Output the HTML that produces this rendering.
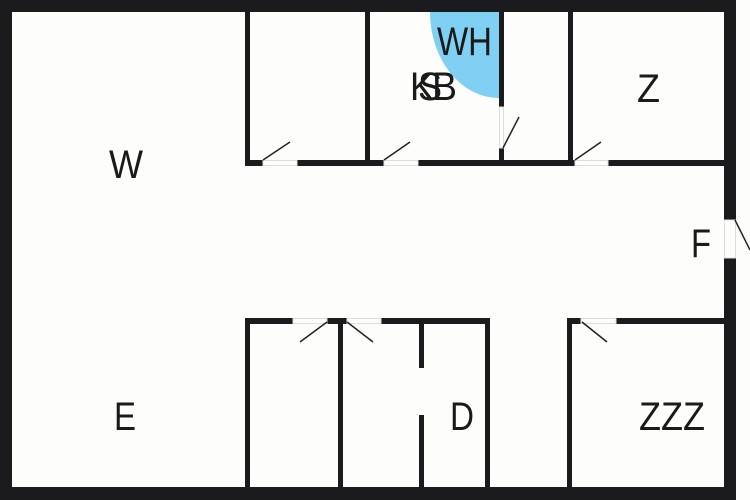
<!DOCTYPE html>
<html><head><meta charset="utf-8"><style>
html,body{margin:0;padding:0;background:#fdfdfc;}
svg{display:block}
text{font-family:"Liberation Sans","DejaVu Sans",sans-serif;fill:#1a1a1a;font-size:40px}
</style></head><body>
<svg width="750" height="500" viewBox="0 0 750 500" xmlns="http://www.w3.org/2000/svg">
<rect width="750" height="500" fill="#fdfdfc"/>
<ellipse cx="499" cy="12" rx="69" ry="86" fill="#7fd0f2"/>
<rect x="499" y="12" width="80" height="100" fill="#fdfdfc"/>
<g fill="#1b1a1c">
<!-- outer -->
<rect x="0" y="0" width="736" height="12"/>
<rect x="0" y="0" width="12" height="500"/>
<rect x="0" y="487" width="736" height="13"/>
<rect x="724" y="0" width="12" height="220"/>
<rect x="724" y="258" width="12" height="242"/>
<!-- top rooms -->
<rect x="245" y="12" width="5" height="154"/>
<rect x="245" y="160" width="18" height="6"/>
<rect x="297" y="160" width="87" height="6"/>
<rect x="365" y="12" width="5" height="154"/>
<rect x="418" y="160" width="157" height="6"/>
<rect x="499" y="12" width="5" height="95"/>
<rect x="499" y="148" width="5" height="18"/>
<rect x="568" y="12" width="5" height="154"/>
<rect x="608" y="160" width="116" height="6"/>
<!-- bottom rooms -->
<rect x="245" y="318" width="48" height="6"/>
<rect x="327" y="318" width="20" height="6"/>
<rect x="381" y="318" width="109" height="6"/>
<rect x="245" y="318" width="5" height="170"/>
<rect x="338" y="318" width="5" height="170"/>
<rect x="419" y="318" width="5" height="50"/>
<rect x="419" y="415" width="5" height="73"/>
<rect x="485" y="318" width="5" height="170"/>
<rect x="567" y="318" width="5" height="170"/>
<rect x="567" y="318" width="14" height="6"/>
<rect x="616" y="318" width="108" height="6"/>
</g>
<g stroke="#ddd" stroke-width="1" fill="none">
<rect x="263" y="160.5" width="34" height="5"/>
<rect x="384" y="160.5" width="34" height="5"/>
<rect x="575" y="160.5" width="33" height="5"/>
<rect x="499.5" y="107" width="4" height="41"/>
<rect x="293" y="318.5" width="34" height="5"/>
<rect x="347" y="318.5" width="34" height="5"/>
<rect x="581" y="318.5" width="35" height="5"/>
<rect x="724.5" y="220" width="11" height="38"/>
</g>
<g stroke="#222" stroke-width="1.5">
<line x1="263" y1="160" x2="290" y2="142"/>
<line x1="384" y1="160" x2="410" y2="142"/>
<line x1="575" y1="160" x2="601" y2="142"/>
<line x1="503" y1="148" x2="519" y2="117"/>
<line x1="327" y1="322" x2="300" y2="342"/>
<line x1="347" y1="322" x2="373" y2="342"/>
<line x1="582" y1="322" x2="607" y2="342"/>
<line x1="735" y1="220" x2="750" y2="250"/>
</g>
<text x="437" y="55" textLength="55" lengthAdjust="spacingAndGlyphs">WH</text>
<text x="410" y="100" textLength="24" lengthAdjust="spacingAndGlyphs">K</text>
<text x="418" y="100" textLength="24" lengthAdjust="spacingAndGlyphs">S</text>
<text x="432" y="100" textLength="25" lengthAdjust="spacingAndGlyphs">B</text>
<text x="109" y="178" textLength="34" lengthAdjust="spacingAndGlyphs">W</text>
<text x="637" y="102" textLength="23" lengthAdjust="spacingAndGlyphs">Z</text>
<text x="691" y="257" textLength="20" lengthAdjust="spacingAndGlyphs">F</text>
<text x="114" y="430" textLength="22" lengthAdjust="spacingAndGlyphs">E</text>
<text x="450" y="430" textLength="24" lengthAdjust="spacingAndGlyphs">D</text>
<text x="639" y="430" textLength="66" lengthAdjust="spacingAndGlyphs">ZZZ</text>
</svg>
</body></html>
